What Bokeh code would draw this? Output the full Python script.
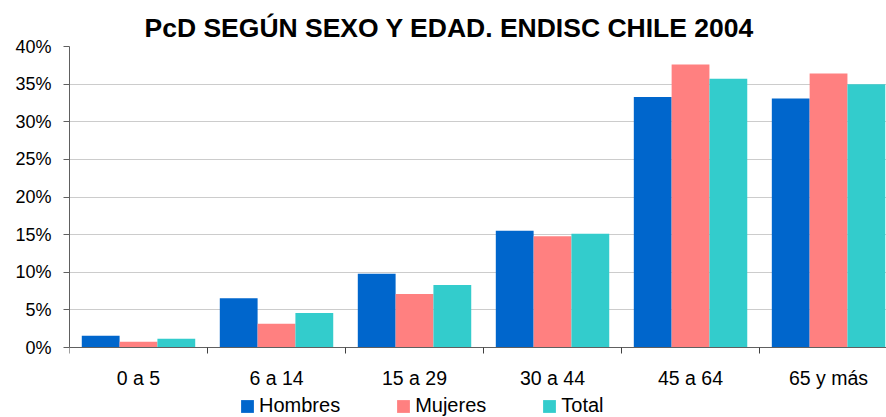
from bokeh.plotting import figure
from bokeh.models import (Range1d, FixedTicker, NumeralTickFormatter, Legend, LegendItem,
                          ColumnDataSource, Title)
from bokeh.transform import dodge
from bokeh.embed import file_html
from bokeh.resources import INLINE

categories = ["0 a 5", "6 a 14", "15 a 29", "30 a 44", "45 a 64", "65 y más"]
hombres = [1.55, 6.56, 9.8, 15.5, 33.3, 33.1]
mujeres = [0.76, 3.15, 7.1, 14.8, 37.6, 36.4]
total = [1.16, 4.6, 8.3, 15.1, 35.7, 35.0]
series_names = ["Hombres", "Mujeres", "Total"]
colors = ["#0066CC", "#FF8080", "#33CCCC"]
y_ticks = [0, 5, 10, 15, 20, 25, 30, 35, 40]

FONT = "Liberation Sans"

pos = [i + 0.5 for i in range(len(categories))]
src = ColumnDataSource(dict(x=pos, h=[v / 100 for v in hombres],
                            m=[v / 100 for v in mujeres], t=[v / 100 for v in total]))

# frame covers plot area plus the space below (for axis labels and legend)
ymax = 0.40
ymin = -ymax * 70 / 301
p = figure(frame_width=817, frame_height=371, output_backend="svg", toolbar_location=None,
           x_range=Range1d(0, 5.92), y_range=Range1d(ymin, ymax),
           min_border_left=69, min_border_right=0, min_border_top=46, min_border_bottom=0)
p.outline_line_color = None
p.background_fill_color = "white"

bw = 0.274
renderers = []
for col, off, c in zip(["h", "m", "t"], [-bw, 0, bw], colors):
    r = p.vbar(x=dodge("x", off), top=col, width=bw, bottom=0, source=src,
               fill_color=c, line_color=None)
    renderers.append(r)

t = Title(text="PcD SEGÚN SEXO Y EDAD. ENDISC CHILE 2004", align="left",
          text_font=FONT, text_font_size="26.5px", text_font_style="bold",
          text_color="black", offset=75, standoff=8)
p.add_layout(t, "above")

# axes
p.yaxis.ticker = FixedTicker(ticks=[v / 100 for v in y_ticks])
p.yaxis.formatter = NumeralTickFormatter(format="0%")
p.yaxis.bounds = (0, ymax)
p.yaxis.major_label_text_font = FONT
p.yaxis.major_label_text_font_size = "18px"
p.yaxis.major_label_text_color = "black"
p.yaxis.major_tick_out = 6
p.yaxis.major_tick_in = 0
p.yaxis.minor_tick_line_color = None
p.yaxis.axis_line_color = "#606060"
p.yaxis.major_tick_line_color = "#606060"
p.yaxis.major_label_standoff = 12

p.xaxis.fixed_location = 0
p.xaxis.ticker = FixedTicker(ticks=pos, minor_ticks=list(range(len(categories) + 1)))
p.xaxis.major_label_overrides = {x: c for x, c in zip(pos, categories)}
p.xaxis.major_label_text_font = FONT
p.xaxis.major_label_text_font_size = "19.5px"
p.xaxis.major_label_text_color = "black"
p.xaxis.major_tick_line_color = None
p.xaxis.major_tick_out = 0
p.xaxis.minor_tick_out = 6
p.xaxis.minor_tick_in = 0
p.xaxis.minor_tick_line_color = "#404040"
p.xaxis.axis_line_color = "#606060"
p.xaxis.major_label_standoff = 13

p.xgrid.grid_line_color = None
p.ygrid.grid_line_color = "#CCCCCC"
p.ygrid.grid_line_width = 1

legend = Legend(items=[LegendItem(label=n, renderers=[r]) for n, r in zip(series_names, renderers)],
                orientation="horizontal", location=(170, 0),
                label_text_font=FONT, label_text_font_size="20px", label_text_color="black",
                glyph_width=16, glyph_height=16, label_standoff=4, spacing=55,
                padding=0, margin=0, border_line_color=None, background_fill_alpha=0,
                label_height=14)
p.add_layout(legend, "center")

open("out.html", "w").write(file_html(p, INLINE))
